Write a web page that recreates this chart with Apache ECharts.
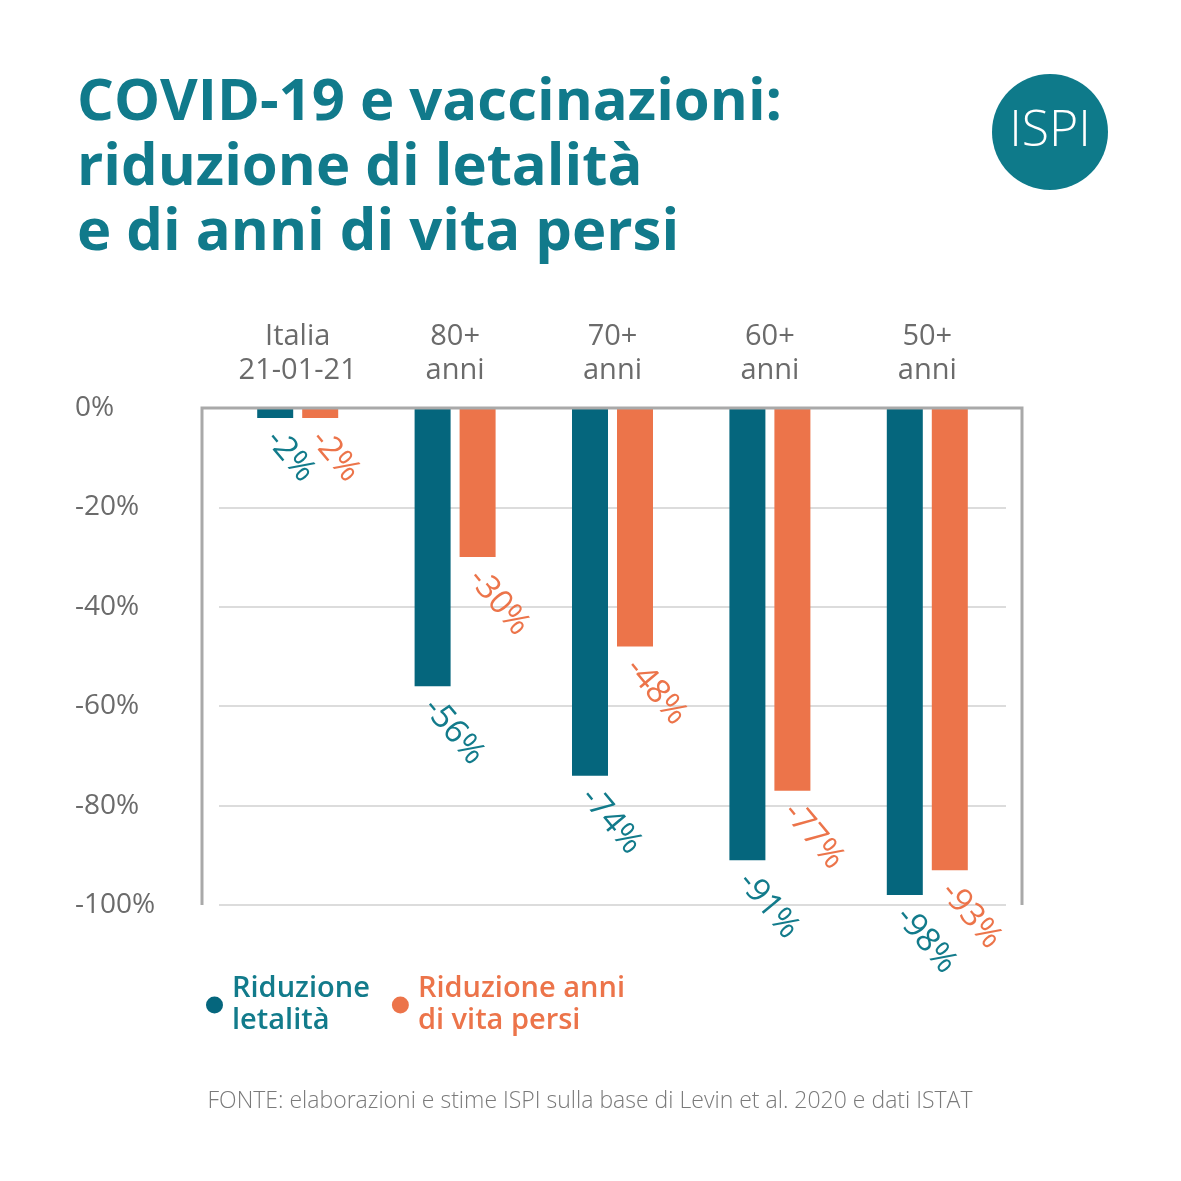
<!DOCTYPE html>
<html>
<head>
<meta charset="utf-8">
<script src="https://cdn.jsdelivr.net/npm/echarts@6/dist/echarts.min.js"></script>
<style>html,body{margin:0;padding:0;background:#fff;}#c{width:1181px;height:1181px;}</style>
</head>
<body>
<div id="c"></div>
<script>
const categories = ['Italia\n21-01-21', '80+\nanni', '70+\nanni', '60+\nanni', '50+\nanni'];
const seriesNames = ['Riduzione\nletalità', 'Riduzione anni\ndi vita persi'];
const riduzioneLetalita = [-2, -56, -74, -91, -98];
const riduzioneAnniVita = [-2, -30, -48, -77, -93];
const yTicks = [0, -20, -40, -60, -80, -100];

const TEAL = '#05667d';
const TEAL_TXT = '#127b8b';
const ORANGE = '#ec744a';
const FONT = '"Open Sans", Lato, sans-serif';

const chart = echarts.init(document.getElementById('c'), null, {renderer: 'canvas'});

function lbl(color) {
  return {
    show: true, position: 'outside', distance: 20, rotate: -50,
    align: 'left', verticalAlign: 'middle', offset: [-5, 0],
    formatter: p => p.value + '%',
    color: color, fontSize: 33, fontFamily: FONT
  };
}

chart.setOption({
  backgroundColor: '#fff',
  animation: false,
  title: {
    text: 'COVID-19 e vaccinazioni:\nriduzione di letalità\ne di anni di vita persi',
    left: 72, top: 66,
    textStyle: {color: '#117a8b', fontSize: 58, fontWeight: 'bold', fontFamily: FONT, lineHeight: 65}
  },
  legend: {
    left: 201, top: 968, itemGap: 22, itemWidth: 17, itemHeight: 17,
    icon: 'circle',
    data: [
      {name: seriesNames[0], textStyle: {color: TEAL_TXT}},
      {name: seriesNames[1], textStyle: {color: ORANGE}}
    ],
    textStyle: {fontSize: 29, fontWeight: 600, fontFamily: FONT, lineHeight: 32, padding: [0, 0, 0, 4]}
  },
  grid: {left: 219, right: 175, top: 408, bottom: 276, containLabel: false},
  xAxis: {
    type: 'category', position: 'top', data: categories,
    axisLine: {show: false}, axisTick: {show: false},
    axisLabel: {color: '#6b6b6b', fontSize: 29, fontFamily: FONT, lineHeight: 34, margin: 20}
  },
  yAxis: {
    type: 'value', min: -100, max: 0, interval: 20,
    axisLine: {show: false}, axisTick: {show: false},
    splitLine: {lineStyle: {color: '#dcdcdc', width: 2}},
    axisLabel: {
      color: '#6b6b6b', fontSize: 28, fontFamily: FONT, align: 'left', margin: 144,
      padding: [4, 0, 0, 0],
      formatter: v => yTicks.includes(v) ? v + '%' : ''
    }
  },
  series: [
    {name: seriesNames[0], type: 'bar', data: riduzioneLetalita, barWidth: 36, barGap: '25%',
     itemStyle: {color: TEAL}, label: lbl(TEAL_TXT)},
    {name: seriesNames[1], type: 'bar', data: riduzioneAnniVita, barWidth: 36,
     itemStyle: {color: ORANGE}, label: lbl(ORANGE)}
  ],
  graphic: [
    {type: 'polyline', z: 5, shape: {points: [[202, 905], [202, 408], [1022, 408], [1022, 905]]},
     style: {stroke: '#a9a9a9', lineWidth: 3, fill: null}},
    {type: 'circle', shape: {cx: 1050, cy: 132, r: 58}, style: {fill: '#0e7a8a'}},
    {type: 'text', x: 1050, y: 132, style: {text: 'ISPI', fill: '#fff', font: '300 50px ' + FONT,
      textAlign: 'center', textVerticalAlign: 'middle'}},
    {type: 'text', x: 590, y: 1101, style: {text: 'FONTE: elaborazioni e stime ISPI sulla base di Levin et al. 2020 e dati ISTAT',
      fill: '#7a7a7a', font: '300 23px ' + FONT, textAlign: 'center', textVerticalAlign: 'middle'}}
  ]
});
</script>
</body>
</html>
